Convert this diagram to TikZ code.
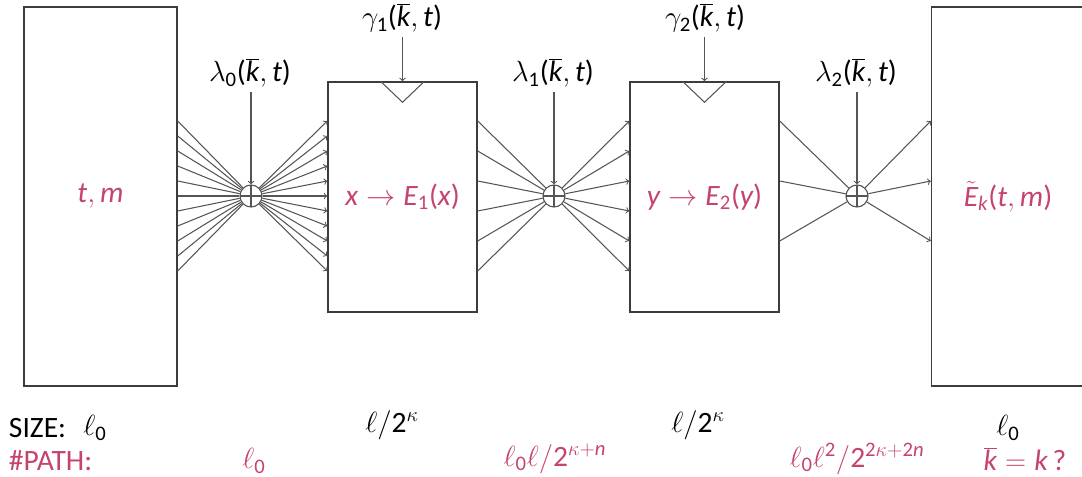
\documentclass[tikz,border=0pt]{standalone}
\usepackage[no-math]{fontspec}
\setmainfont{Carlito}
\setsansfont{Carlito}
% sans letters and digits in math, greek stays cm
\DeclareSymbolFont{operators}{TU}{\rmdefault}{m}{n}
\DeclareSymbolFont{sflet}{TU}{\rmdefault}{m}{it}
\DeclareSymbolFont{cmops}{OT1}{cmr}{m}{n}
\DeclareMathAccent{\tilde}{\mathalpha}{cmops}{"7E}
\DeclareMathSymbol{=}{\mathrel}{cmops}{"3D}
\DeclareMathSymbol{+}{\mathbin}{cmops}{"2B}
\DeclareMathSymbol{t}{\mathalpha}{sflet}{`t}
\DeclareMathSymbol{m}{\mathalpha}{sflet}{`m}
\DeclareMathSymbol{k}{\mathalpha}{sflet}{`k}
\DeclareMathSymbol{n}{\mathalpha}{sflet}{`n}
\DeclareMathSymbol{x}{\mathalpha}{sflet}{`x}
\DeclareMathSymbol{y}{\mathalpha}{sflet}{`y}
\DeclareMathSymbol{E}{\mathalpha}{sflet}{`E}
\definecolor{pathcol}{RGB}{196,68,108}
\definecolor{boxcol}{RGB}{60,60,60}
\definecolor{fancol}{RGB}{85,85,85}

\begin{document}
\begin{tikzpicture}[x=0.025cm,y=-0.025cm,>=to,
  font=\fontsize{21}{25}\selectfont,
  block/.style={draw=boxcol,line width=1pt,minimum width=3.725cm,minimum height=5.75cm,text=pathcol},
  bigblock/.style={block,minimum width=3.825cm,minimum height=9.475cm},
  fan/.style={draw=fancol,line width=0.75pt},
  xorop/.style={circle,draw=fancol,line width=0.8pt,minimum size=0.55cm,inner sep=0pt,
    path picture={\draw[fancol,line width=0.8pt]
      (path picture bounding box.north) -- (path picture bounding box.south)
      (path picture bounding box.west) -- (path picture bounding box.east);}}]
\useasboundingbox (0,0) rectangle (1082,477);

% boxes
\node[bigblock] (in0) at (100.5,196.5) {$t,m$};
\node[block] (e1) at (402.5,197) {$x\to E_1(x)$};
\node[block] (e2) at (704.5,197) {$y\to E_2(y)$};
\node[bigblock] (out) at (1008,196.5) {$\tilde{E}_k(t,m)$};

% xor gates and keys
\node[xorop] (x0) at (251,196) {};
\node[xorop] (x1) at (554,196) {};
\node[xorop] (x2) at (857,196) {};
\node (lam0) at (250,73) {$\lambda_0(\overline{k},t)$};
\node (lam1) at (553,73) {$\lambda_1(\overline{k},t)$};
\node (lam2) at (856,73) {$\lambda_2(\overline{k},t)$};
\node (gam1) at (402,18) {$\gamma_1(\overline{k},t)$};
\node (gam2) at (705,18) {$\gamma_2(\overline{k},t)$};
\draw[fan,->] (lam0.south -| x0) -- (x0);
\draw[fan,->] (lam1.south -| x1) -- (x1);
\draw[fan,->] (lam2.south -| x2) -- (x2);
\draw[fan,->] (gam1.south -| e1.north) -- (e1.north);
\draw[fan,->] (gam2.south -| e2.north) -- (e2.north);
\draw[fan] (e1.north) ++(-22,0) -- ++(22,21) -- ++(22,-21);
\draw[fan] (e2.north) ++(-22,0) -- ++(22,21) -- ++(22,-21);

% fans
\foreach \y in {121,136,...,271} {
  \draw[fan] (in0.east |- 0,\y) -- (x0);
  \draw[fan,->] (x0) -- (e1.west |- 0,\y);
}
\foreach \y in {121,151,...,271} {
  \draw[fan] (e1.east |- 0,\y) -- (x1);
  \draw[fan,->] (x1) -- (e2.west |- 0,\y);
}
\foreach \y in {121,181,241} {
  \draw[fan] (e2.east |- 0,\y) -- (x2);
  \draw[fan,->] (x2) -- (out.west |- 0,\y);
}

% bottom rows
\node[anchor=west] (sizelbl) at (4,428) {SIZE:};
\node (sz0) at (95,428) {$\ell_0$};
\node (sz1) at (392,425) {$\ell/2^\kappa$};
\node (sz2) at (698,425) {$\ell/2^\kappa$};
\node (sz3) at (1008,428) {$\ell_0$};
\node[anchor=west,text=pathcol] (pathlbl) at (4,461) {\#PATH:};
\node[text=pathcol] (np0) at (254,461) {$\ell_0$};
\node[text=pathcol] (np1) at (555,459) {$\ell_0\ell/2^{\kappa+n}$};
\node[text=pathcol] (np2) at (857,459) {$\ell_0\ell^2/2^{2\kappa+2n}$};
\node[text=pathcol] (np3) at (1025,459) {$\overline{k}=k\,$?};
\end{tikzpicture}
\end{document}
